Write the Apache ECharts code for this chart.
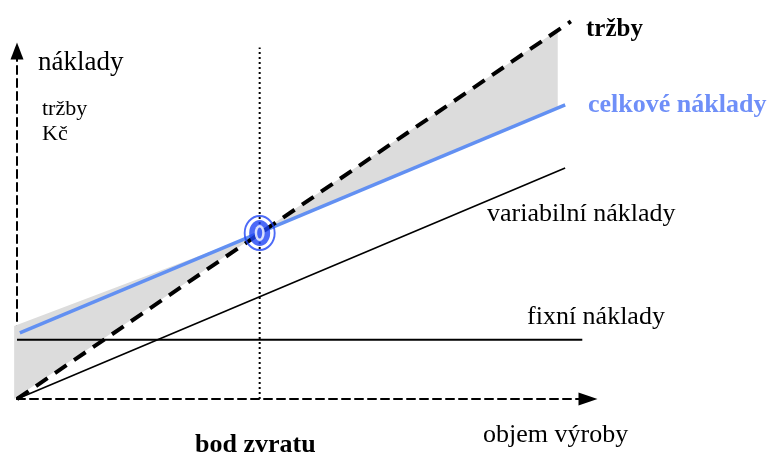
<!DOCTYPE html>
<html>
<head>
<meta charset="utf-8">
<script src="https://cdn.jsdelivr.net/npm/echarts@6/dist/echarts.min.js"></script>
<style>
  html, body { margin: 0; padding: 0; background: #fff; }
  #main { width: 771px; height: 452px; }
</style>
</head>
<body>
<div id="main"></div>
<script>
// data in chart units (objem výroby on x, Kč on y)
var trzby = [[0, 0], [97, 108.5]];
var celkoveNaklady = [[0.5, 19], [96, 84.5]];
var variabilniNaklady = [[0, 0], [96, 66.4]];
var fixniNaklady = [[0, 17], [99, 17]];
var bodZvratu = [[42.5, 47.7]];
var svislice = [[42.5, 0], [42.5, 101]];
// gray area between revenue and total cost
var plocha = [[-0.5, 21], [42.5, 47.7], [94.7, 106], [94.7, 83.3], [42.5, 47.7], [-0.5, 0]];

var myChart = echarts.init(document.getElementById('main'));
var font = '"Liberation Serif", "DejaVu Serif", serif';

function popisek(text, x, y, size, color, bold) {
    return { type: 'text', left: x, top: y,
        style: { text: text, font: (bold ? 'bold ' : '') + size + 'px ' + font, fill: color || '#000' } };
}

var option = {
    animation: false,
    grid: { left: 17, right: 183, top: 51, bottom: 53 },
    xAxis: {
        type: 'value', min: 0, max: 100,
        axisLine: { show: true, symbol: ['none', 'triangle'], symbolSize: [13, 19],
            lineStyle: { color: '#000', width: 2, type: [8, 5] } },
        axisTick: { show: false }, axisLabel: { show: false }, splitLine: { show: false }
    },
    yAxis: {
        type: 'value', min: 0, max: 100,
        axisLine: { show: true, symbol: ['none', 'triangle'], symbolSize: [13, 17],
            lineStyle: { color: '#000', width: 2, type: [8, 5] } },
        axisTick: { show: false }, axisLabel: { show: false }, splitLine: { show: false }
    },
    series: [
        {
            type: 'custom', name: 'plocha', clip: false, z: 1,
            data: [0],
            renderItem: function (params, api) {
                var pts = plocha.map(function (p) { return api.coord(p); });
                return { type: 'polygon', shape: { points: pts }, style: { fill: '#dcdcdc' } };
            }
        },
        { type: 'line', data: svislice, symbol: 'none', clip: false, z: 2,
          lineStyle: { color: '#000', width: 2, type: [2, 3] } },
        { type: 'line', data: fixniNaklady, symbol: 'none', clip: false, z: 3,
          lineStyle: { color: '#000', width: 2 } },
        { type: 'line', data: variabilniNaklady, symbol: 'none', clip: false, z: 3,
          lineStyle: { color: '#000', width: 1.6 } },
        { type: 'line', data: celkoveNaklady, symbol: 'none', clip: false, z: 4,
          lineStyle: { color: '#6290f2', width: 3.5 } },
        { type: 'line', data: trzby, symbol: 'none', clip: false, z: 5,
          lineStyle: { color: '#000', width: 4, type: [14, 9] } },
        // bod zvratu - soustředné kroužky
        { type: 'scatter', data: bodZvratu, symbol: 'circle', symbolSize: [30, 34], z: 6,
          itemStyle: { color: 'rgba(0,0,0,0)', borderColor: '#1f45f5', borderWidth: 2 } },
        { type: 'scatter', data: bodZvratu, symbol: 'circle', symbolSize: [21, 26], z: 7,
          itemStyle: { color: '#1f45f5' } },
        { type: 'scatter', data: bodZvratu, symbol: 'circle', symbolSize: [10, 16], z: 8,
          itemStyle: { color: '#fff' } },
        { type: 'scatter', data: bodZvratu, symbol: 'circle', symbolSize: [5, 11], z: 9,
          itemStyle: { color: '#1f45f5' } }
    ],
    graphic: [
        popisek('náklady', 38, 49, 27),
        popisek('tržby', 42, 98, 22),
        popisek('Kč', 42, 123, 22),
        popisek('tržby', 586, 17, 25, '#000', true),
        popisek('celkové náklady', 588, 92, 26, '#6f8ff8', true),
        popisek('zisk', 463, 108, 20, '#7a7a7a'),
        popisek('ztráta', 81, 312, 19, '#7a7a7a'),
        popisek('variabilní náklady', 487, 201, 26),
        popisek('fixní náklady', 527, 304, 26),
        popisek('objem výroby', 483, 422, 26),
        popisek('bod zvratu', 195, 432, 26, '#000', true)
    ]
};

myChart.setOption(option);
</script>
</body>
</html>
